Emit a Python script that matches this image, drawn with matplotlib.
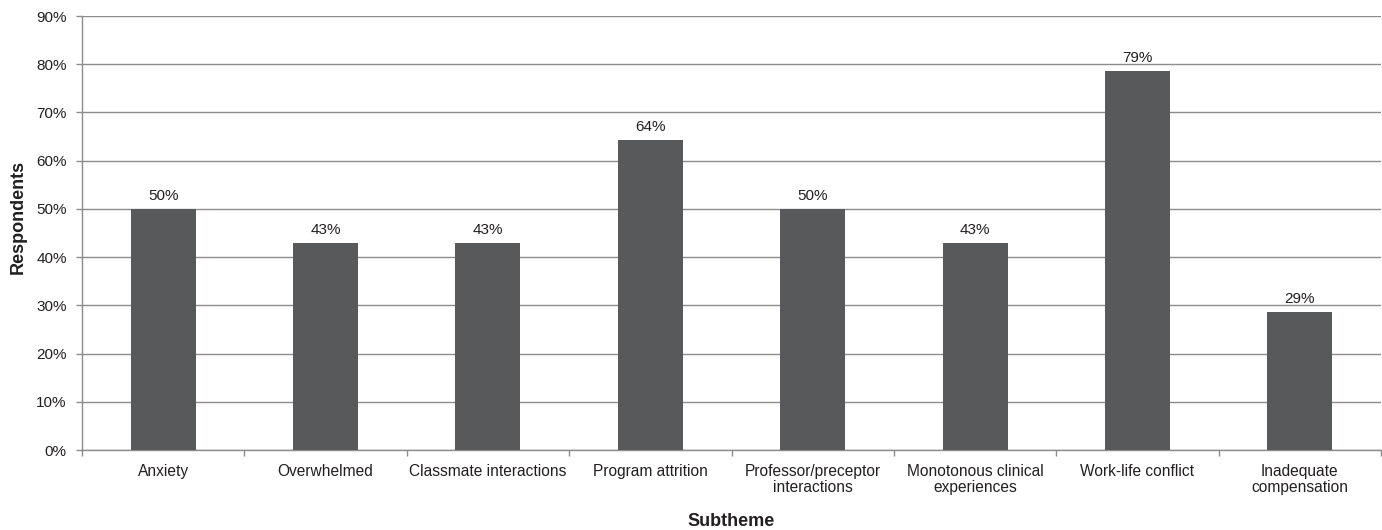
import matplotlib.pyplot as plt
import numpy as np
from matplotlib.ticker import FuncFormatter, FixedLocator

plt.rcParams['font.family'] = ['Liberation Sans', 'DejaVu Sans']

categories = ['Anxiety', 'Overwhelmed', 'Classmate interactions', 'Program attrition',
              'Professor/preceptor\ninteractions', 'Monotonous clinical\nexperiences',
              'Work-life conflict', 'Inadequate\ncompensation']
percents = [50.0, 42.9, 42.9, 64.3, 50.0, 42.9, 78.6, 28.6]

bar_color = '#58595b'
grid_color = '#8c8c8c'
text_color = '#231f20'

fig = plt.figure(figsize=(13.82, 5.30), dpi=100)
ax = fig.add_axes([82 / 1382, 80 / 530, 1299 / 1382, 434 / 530])

x = np.arange(len(categories))
bars = ax.bar(x, percents, width=0.40, color=bar_color, zorder=3)

for rect, val in zip(bars, percents):
    ax.text(rect.get_x() + rect.get_width() / 2, val + 1.3, f'{val:.0f}%',
            ha='center', va='bottom', fontsize=11, color=text_color)

ax.set_xlim(-0.5, len(categories) - 0.5)
ax.set_ylim(0, 90)
ax.set_yticks(np.arange(0, 91, 10))
ax.yaxis.set_major_formatter(FuncFormatter(lambda v, p: f'{v:.0f}%'))
ax.yaxis.grid(True, color=grid_color, linewidth=1.0, zorder=0)

# category labels centred on bars, tick marks on the category boundaries
ax.set_xticks(x)
ax.set_xticklabels(categories, fontsize=11.2, color=text_color, linespacing=1.1)
ax.tick_params(axis='x', which='major', length=0, pad=10)
ax.xaxis.set_minor_locator(FixedLocator(np.arange(-0.5, len(categories), 1.0)))
ax.tick_params(axis='x', which='minor', length=4, color=grid_color, width=1.0)
ax.tick_params(axis='y', length=4, color=grid_color, width=1.0, labelsize=11,
               labelcolor=text_color, pad=7)

for side in ['top', 'right']:
    ax.spines[side].set_visible(False)
for side in ['left', 'bottom']:
    ax.spines[side].set_color(grid_color)
    ax.spines[side].set_linewidth(1.0)

ax.set_xlabel('Subtheme', fontsize=13, fontweight='bold', color=text_color, va='center')
ax.xaxis.set_label_coords(0.5, (450 - 521) / 434)
ax.set_ylabel('Respondents', fontsize=13, fontweight='bold', color=text_color, va='center')
ax.yaxis.set_label_coords((18 - 82) / 1299, (450 - 217) / 434)

fig.savefig('out.png', dpi=100)
